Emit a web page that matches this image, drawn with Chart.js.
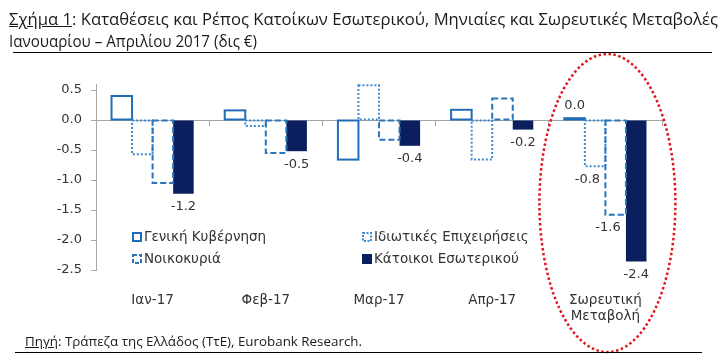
<!DOCTYPE html>
<html>
<head>
<meta charset="utf-8">
<script src="https://cdn.jsdelivr.net/npm/chart.js@4.4.0/dist/chart.umd.min.js"></script>
<style>
    html, body { margin: 0; padding: 0; background: #fff; }
    #wrap { position: relative; width: 726px; height: 363px; overflow: hidden; }
    #graph { position: absolute; left: 0; top: 0; }
    .txt { position: absolute; font-family: "Open Sans", sans-serif; color: #1a1a1a; white-space: nowrap; transform-origin: 0 0; }
    #title1 { left: 9px; top: 8px; font-size: 16px; line-height: 22px; }
    #title2 { left: 9px; top: 30px; font-size: 16px; line-height: 22px; }
    #source { left: 25px; top: 333px; font-size: 13px; line-height: 16px; }
    .rule { position: absolute; height: 0; border-top: 1.5px solid #000; }
</style>
</head>
<body>
<div id="wrap">
    <canvas id="graph" width="726" height="363"></canvas>
    <span class="txt" id="title1"><u>Σχήμα 1</u>: Καταθέσεις και Ρέπος Κατοίκων Εσωτερικού, Μηνιαίες και Σωρευτικές Μεταβολές</span>
    <span class="txt" id="title2">Ιανουαρίου – Απριλίου 2017 (δις €)</span>
    <div class="rule" style="left:13px; top:52px; width:699px;"></div>
    <span class="txt" id="source"><u>Πηγή</u>: Τράπεζα της Ελλάδος (ΤτΕ), Eurobank Research.</span>
    <div class="rule" style="left:15px; top:352px; width:687px;"></div>
</div>
<script>
// Данные графика
var categories = ['Ιαν-17', 'Φεβ-17', 'Μαρ-17', 'Απρ-17', ['Σωρευτική', 'Μεταβολή']];
var seriesNames = ['Γενική Κυβέρνηση', 'Ιδιωτικές Επιχειρήσεις', 'Νοικοκυριά', 'Κάτοικοι Εσωτερικού'];
var generalGov = [0.40, 0.16, -0.66, 0.17, 0.03];
var businesses = [-0.57, -0.10, 0.58, -0.66, -0.77];
var households = [-1.05, -0.55, -0.33, 0.36, -1.58];
var residents = [-1.23, -0.52, -0.43, -0.16, -2.36];
var yTicks = [0.5, 0, -0.5, -1, -1.5, -2, -2.5];

var tickFont = { family: 'DejaVu Sans', size: 13 };
var textColor = '#333333';
var axisColor = '#a6a6a6';

// Подгонка ширины заголовка
function fitText(id, target) {
    var el = document.getElementById(id);
    var k = target / el.getBoundingClientRect().width;
    el.style.transform = 'scaleX(' + k + ')';
}
fitText('title1', 709);
fitText('title2', 248);
fitText('source', 337);

// Контуры столбцов (пунктир / штрих)
var outlinePlugin = {
    id: 'outlines',
    afterDatasetsDraw(chart) {
        var ctx = chart.ctx;
        chart.data.datasets.forEach((ds, i) => {
            if (!ds.outline) return;
            var meta = chart.getDatasetMeta(i);
            ctx.save();
            ctx.strokeStyle = ds.outline.color;
            ctx.lineWidth = ds.outline.width;
            ctx.setLineDash(ds.outline.dash);
            meta.data.forEach((el) => {
                var p = el.getProps(['x', 'y', 'base', 'width'], true);
                var top = Math.min(p.y, p.base);
                var h = Math.abs(p.base - p.y);
                ctx.strokeRect(p.x - p.width / 2, top, p.width, h);
            });
            ctx.restore();
        });
    }
};

// Подписи значений
var labelPlugin = {
    id: 'valueLabels',
    afterDatasetsDraw(chart) {
        var ctx = chart.ctx;
        var last = categories.length - 1;
        ctx.save();
        ctx.font = '13px "DejaVu Sans"';
        ctx.fillStyle = textColor;
        ctx.textBaseline = 'middle';
        chart.data.datasets.forEach((ds, i) => {
            var meta = chart.getDatasetMeta(i);
            meta.data.forEach((el, j) => {
                if (i !== chart.data.datasets.length - 1 && j !== last) return;
                var v = ds.data[j];
                var y = v < 0 ? el.y + 13 : el.y - 13;
                var x = el.x;
                ctx.textAlign = 'center';
                var next = chart.getDatasetMeta(i + 1);
                if (v < 0 && next && next.data[j] && next.data[j].y > y + 6) {
                    ctx.textAlign = 'right';
                    x = el.x + 5;
                }
                ctx.fillText(v.toFixed(1), x, y);
            });
        });
        ctx.restore();
    }
};

// Легенда внутри области графика
var legendPlugin = {
    id: 'innerLegend',
    afterDraw(chart) {
        var ctx = chart.ctx;
        var cols = [132, 362];
        var rows = [237, 259];
        ctx.save();
        ctx.font = '13.5px "DejaVu Sans"';
        ctx.textBaseline = 'middle';
        ctx.textAlign = 'left';
        chart.data.datasets.forEach((ds, i) => {
            var x = cols[i % 2];
            var y = rows[Math.floor(i / 2)];
            if (ds.outline) {
                ctx.strokeStyle = ds.outline.color;
                ctx.lineWidth = 2;
                ctx.setLineDash(ds.outline.dash.length ? [2, 1.5] : []);
                if (ds.outline.dash.length && ds.outline.dash[0] > 3) ctx.setLineDash([4, 2]);
                ctx.strokeRect(x + 1, y - 4, 8, 8);
            } else {
                ctx.fillStyle = ds.backgroundColor;
                ctx.fillRect(x, y - 5, 10, 10);
            }
            ctx.setLineDash([]);
            ctx.fillStyle = textColor;
            ctx.fillText(ds.label, x + 12, y);
        });
        ctx.restore();
    }
};

// Эллипс вокруг накопленного изменения
var ellipsePlugin = {
    id: 'ellipse',
    afterDraw(chart) {
        var ctx = chart.ctx;
        var cx = chart.scales.x.getPixelForValue(categories.length - 1) + 2;
        ctx.save();
        ctx.strokeStyle = '#e0161b';
        ctx.lineWidth = 2.5;
        ctx.setLineDash([2.5, 2.5]);
        ctx.beginPath();
        ctx.ellipse(cx, 203, 68, 149, 0, 0, Math.PI * 2);
        ctx.stroke();
        ctx.restore();
    }
};

var ctx = document.getElementById('graph').getContext('2d');
var Graph = new Chart(ctx, {
    type: 'bar',
    data: {
        labels: categories,
        datasets: [
            { label: seriesNames[0], data: generalGov, backgroundColor: 'rgba(255,255,255,0)', borderWidth: 0,
              outline: { color: '#1f6db6', width: 2, dash: [] } },
            { label: seriesNames[1], data: businesses, backgroundColor: 'rgba(255,255,255,0)', borderWidth: 0,
              outline: { color: '#3c8ad2', width: 2, dash: [2, 2] } },
            { label: seriesNames[2], data: households, backgroundColor: 'rgba(255,255,255,0)', borderWidth: 0,
              outline: { color: '#2a74bd', width: 2, dash: [6, 3] } },
            { label: seriesNames[3], data: residents, backgroundColor: '#0b1f5e', borderWidth: 0 }
        ]
    },
    options: {
        responsive: false,
        animation: false,
        events: [],
        barPercentage: 1,
        categoryPercentage: 0.726,
        layout: { padding: { left: 0, right: 64, top: 84, bottom: 0 } },
        plugins: {
            legend: { display: false },
            tooltip: { enabled: false }
        },
        scales: {
            x: {
                position: { y: 0 },
                offset: true,
                ticks: { display: false },
                grid: { display: true, drawOnChartArea: false, drawTicks: true, tickLength: 5, offset: true, color: axisColor },
                border: { display: true, color: axisColor, width: 1 }
            },
            x2: {
                type: 'category',
                position: 'bottom',
                labels: categories,
                offset: true,
                grid: { display: false },
                border: { display: false },
                ticks: { font: { family: 'DejaVu Sans', size: 13.5 }, color: textColor, padding: 14, maxRotation: 0, autoSkip: false },
                afterFit: (s) => { s.height = 93; }
            },
            y: {
                min: -2.5,
                max: 0.6,
                afterBuildTicks: (s) => { s.ticks = yTicks.map((v) => ({ value: v })); },
                afterFit: (s) => { s.width = 96; },
                ticks: { font: tickFont, color: textColor, padding: 9, callback: (v) => Number(v).toFixed(1) },
                grid: { display: true, drawOnChartArea: false, drawTicks: true, tickLength: 5, color: axisColor },
                border: { display: true, color: axisColor, width: 1 }
            }
        }
    },
    plugins: [outlinePlugin, labelPlugin, legendPlugin, ellipsePlugin]
});
</script>
</body>
</html>
